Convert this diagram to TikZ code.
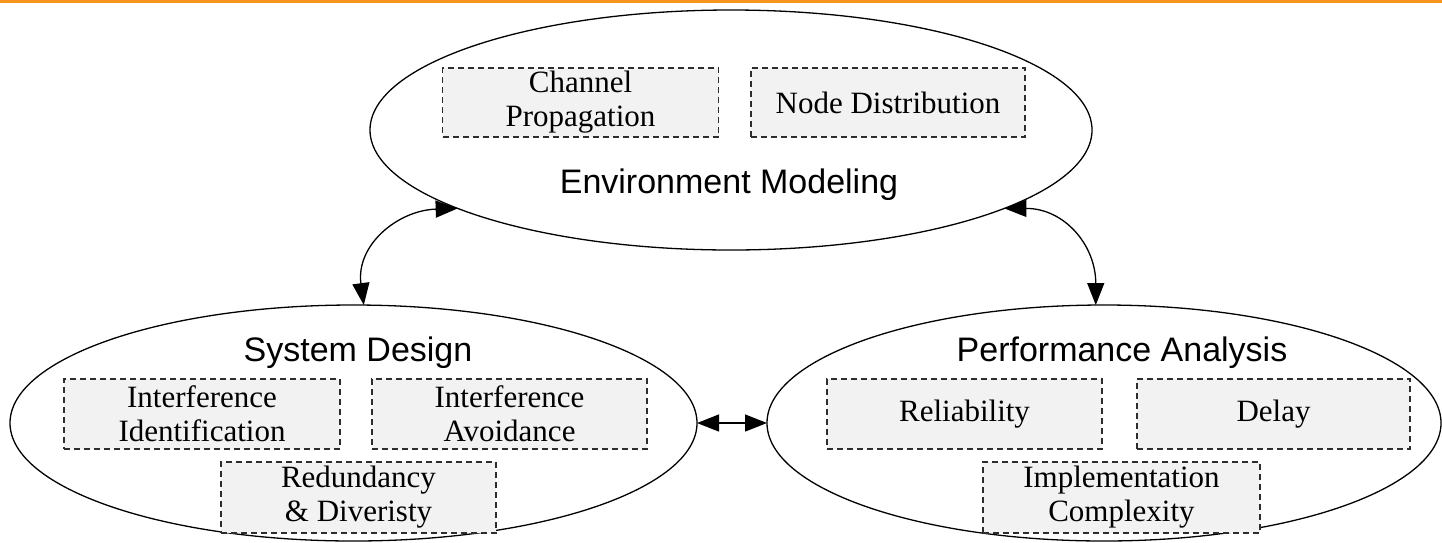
\documentclass[tikz,border=0pt]{standalone}
\usepackage{fontspec}
\setmainfont{Liberation Serif}
\newfontfamily\titlefont{Liberation Sans}
\usetikzlibrary{shapes.geometric,arrows.meta}
\definecolor{topline}{RGB}{247,148,29}
\definecolor{boxfill}{RGB}{242,242,242}
\definecolor{boxline}{RGB}{45,45,45}
\begin{document}
\begin{tikzpicture}[x=1pt,y=-1pt,
  ell/.style={draw, ellipse, line width=1.3pt, inner sep=0pt, outer sep=0pt},
  sub/.style={draw=boxline, dash pattern=on 6pt off 4pt, line width=1.6pt, fill=boxfill,
    minimum width=276pt, minimum height=70pt, align=center, inner sep=0pt,
    font=\fontsize{31}{34}\selectfont},
  ttl/.style={anchor=base, inner sep=0pt, font=\titlefont\fontsize{34}{38}\selectfont},
  con/.style={line width=1.3pt, {Triangle[length=22pt,width=17pt]}-{Triangle[length=22pt,width=17pt]}}
]
\useasboundingbox (0,0) rectangle (1442,542);
\fill[topline] (0,0) rectangle (1442,3);

% ellipses
\node[ell, minimum width=722pt, minimum height=240pt] (env) at (731,130) {};
\node[ell, minimum width=687pt, minimum height=236pt] (sys) at (353.5,423) {};
\node[ell, minimum width=674pt, minimum height=236pt] (perf) at (1104,423) {};

% titles
\node[ttl] (envt) at (729,193) {Environment Modeling};
\node[ttl] (syst) at (358,361) {System Design};
\node[ttl] (perft) at (1122,361) {Performance Analysis};

% sub boxes
\node[sub, minimum height=69pt] (chan) at (580.5,102.5) {Channel\\Propagation};
\node[sub, minimum height=69pt, minimum width=274pt] (nd) at (888,102.5) {Node Distribution};
\node[sub] (iid) at (202,414) {Interference\\Identification};
\node[sub, minimum width=275pt] (iav) at (509.5,414) {Interference\\Avoidance};
\node[sub, minimum width=275pt, minimum height=71pt] (red) at (358.5,497.5) {Redundancy\\\& Diveristy};
\node[sub, minimum width=275pt] (rel) at (964.5,414) {Reliability};
\node[sub, minimum width=273pt] (del) at (1273.5,414) {Delay};
\node[sub, minimum width=277pt, minimum height=71pt] (imp) at (1121.5,497.5) {Implementation\\Complexity};

% connectors
\draw[con] (env.196.5) .. controls +(-60,2) and +(-8,-60) .. (sys.85);
\draw[con] (env.344) .. controls +(60,0) and +(0,-60) .. (perf.94);
\draw[con] (sys.east) -- (perf.west);
\end{tikzpicture}
\end{document}
